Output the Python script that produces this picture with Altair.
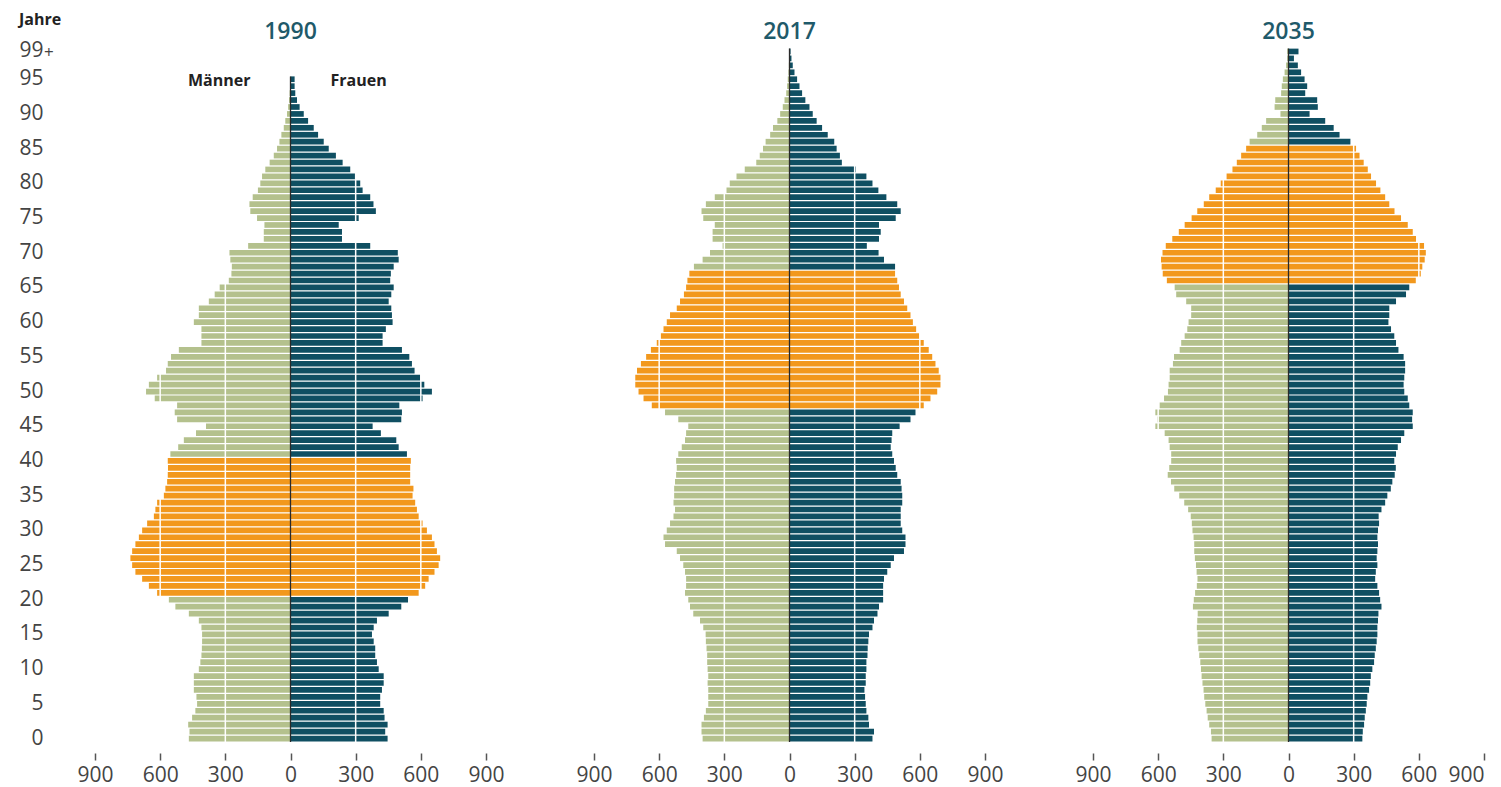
import altair as alt
import pandas as pd

years = [1990, 2017, 2035]
ages = list(range(100))

# population in thousands per single year of age (index = age 0..99+)
men_1990 = [468, 465, 471, 453, 438, 430, 433, 445, 445, 445,
            422, 415, 410, 408, 407, 407, 410, 422, 468, 530,
            560, 614, 652, 683, 714, 729, 737, 729, 714, 698,
            683, 660, 629, 622, 614, 583, 576, 568, 565, 564,
            565, 553, 517, 491, 435, 389, 522, 533, 522, 625,
            665, 652, 614, 573, 565, 550, 514, 410, 410, 410,
            445, 422, 422, 376, 349, 326, 284, 272, 270, 277,
            281, 195, 123, 123, 120, 154, 185, 189, 174, 150,
            139, 131, 116, 96, 77, 62, 51, 42, 31, 24,
            16, 11, 7, 4, 2, 1, 0, 0, 0, 0]
women_1990 = [447, 436, 447, 433, 429, 413, 413, 421, 429, 429,
              406, 398, 390, 390, 383, 375, 383, 398, 452, 510,
              541, 590, 620, 636, 663, 682, 689, 674, 663, 651,
              628, 608, 590, 582, 574, 562, 566, 551, 551, 551,
              554, 536, 498, 487, 416, 378, 510, 513, 501, 608,
              651, 616, 597, 571, 559, 547, 513, 424, 424, 439,
              470, 467, 464, 452, 464, 475, 459, 462, 475, 498,
              494, 367, 237, 237, 222, 314, 393, 382, 367, 332,
              321, 298, 275, 240, 209, 176, 153, 127, 107, 81,
              61, 42, 30, 22, 19, 19, 0, 0, 0, 0]
men_2017 = [400, 405, 405, 394, 385, 374, 374, 374, 377, 374,
            377, 379, 379, 382, 385, 386, 397, 412, 443, 458,
            466, 481, 476, 476, 481, 489, 504, 519, 573, 580,
            565, 550, 534, 527, 534, 531, 531, 527, 522, 519,
            522, 512, 496, 481, 476, 466, 512, 573, 634, 672,
            695, 710, 710, 702, 684, 660, 638, 611, 592, 580,
            565, 550, 519, 504, 486, 476, 470, 461, 440, 400,
            366, 308, 354, 354, 344, 397, 405, 385, 344, 290,
            275, 244, 206, 153, 137, 122, 110, 89, 76, 56,
            43, 31, 23, 15, 11, 8, 5, 3, 2, 2]
women_2017 = [382, 389, 366, 363, 354, 351, 348, 345, 351, 351,
              354, 354, 359, 360, 363, 366, 382, 389, 405, 412,
              431, 431, 431, 435, 450, 466, 481, 527, 534, 534,
              519, 512, 512, 512, 519, 519, 516, 512, 496, 489,
              481, 473, 466, 470, 473, 507, 557, 580, 618, 649,
              680, 695, 695, 687, 672, 657, 641, 618, 599, 583,
              568, 557, 542, 527, 512, 504, 496, 486, 486, 435,
              410, 356, 412, 420, 412, 489, 512, 496, 446, 409,
              382, 354, 305, 241, 232, 217, 206, 176, 150, 125,
              107, 92, 73, 58, 46, 35, 23, 15, 9, 5]
men_2035 = [354, 357, 365, 372, 377, 383, 388, 391, 396, 400,
            403, 406, 411, 415, 419, 419, 422, 420, 418, 440,
            436, 430, 422, 419, 423, 426, 431, 434, 434, 437,
            442, 445, 450, 462, 480, 503, 526, 541, 556, 549,
            540, 540, 547, 552, 570, 613, 604, 613, 593, 573,
            555, 552, 547, 547, 532, 527, 501, 494, 478, 466,
            460, 448, 448, 471, 517, 524, 560, 579, 584, 587,
            580, 565, 535, 505, 478, 446, 420, 390, 365, 335,
            312, 285, 258, 238, 218, 195, 179, 144, 123, 103,
            37, 64, 61, 34, 31, 26, 18, 11, 6, 6]
women_2035 = [340, 342, 348, 351, 356, 360, 363, 371, 376, 379,
              386, 394, 397, 402, 406, 409, 409, 412, 414, 428,
              422, 417, 409, 399, 402, 409, 406, 409, 412, 409,
              412, 417, 415, 428, 445, 455, 471, 478, 489, 494,
              487, 495, 503, 518, 533, 572, 569, 572, 556, 549,
              533, 530, 533, 537, 537, 530, 506, 495, 487, 472,
              460, 464, 464, 495, 541, 556, 586, 609, 616, 627,
              632, 624, 587, 572, 549, 518, 488, 464, 445, 423,
              403, 380, 365, 346, 327, 311, 285, 235, 208, 169,
              97, 135, 132, 77, 86, 74, 58, 43, 25, 46]

boomer_first, boomer_last = 1950, 1969
tick_values = [-900, -600, -300, 0, 300, 600, 900]
grid_values = [-600, -300, 300, 600]
age_label_values = [0, 5, 10, 15, 20, 25, 30, 35, 40, 45, 50,
                    55, 60, 65, 70, 75, 80, 85, 90, 95, 99]

series = {1990: (men_1990, women_1990),
          2017: (men_2017, women_2017),
          2035: (men_2035, women_2035)}

rows = []
tops = []
for year in years:
    men, women = series[year]
    top = 0
    for age, m, w in zip(ages, men, women):
        boomer = boomer_first <= year - age <= boomer_last
        if m > 0:
            rows.append(dict(year=year, age=age, x0=-m, x1=0,
                             grp="Babyboomer" if boomer else "Männer"))
        if w > 0:
            rows.append(dict(year=year, age=age, x0=0, x1=w,
                             grp="Babyboomer" if boomer else "Frauen"))
        if m > 0 or w > 0:
            top = age
    tops.append(dict(year=year, top=top))
df = pd.DataFrame(rows)
tops_df = pd.DataFrame(tops)

W, H = 391, 694
FONT = "Open Sans"
GREEN, TEAL, ORANGE = "#b4c18d", "#0f4f62", "#f2981d"

xscale = alt.Scale(domain=[-900, 900], nice=False, zero=False)
yscale = alt.Scale(domain=ages[::-1], paddingInner=0.18, paddingOuter=0.09)
cscale = alt.Scale(domain=["Männer", "Frauen", "Babyboomer"],
                   range=[GREEN, TEAL, ORANGE])


def make_xaxis(last):
    kw = dict(values=tick_values, labelExpr="abs(datum.value)", title=None,
              grid=False, domain=False, ticks=True, offset=11, tickSize=7,
              tickWidth=1.5, tickColor="#555", labelColor="#444",
              labelFontSize=21, labelFont=FONT, labelPadding=4,
              labelFlush=False)
    if last:
        kw["labelAlign"] = {"condition": {"test": "datum.value === 900",
                                          "value": "right"},
                            "value": "center"}
    return alt.Axis(**kw)


def panel(idx, year):
    d = df[df.year == year]
    if idx == 0:
        yaxis = alt.Axis(values=age_label_values, title=None, domain=False,
                         grid=False, ticks=False, tickSize=0, labelPadding=52,
                         labelFontSize=21, labelFont=FONT, labelColor="#444")
    else:
        yaxis = None
    bars = alt.Chart(d).mark_bar().encode(
        x=alt.X("x0:Q", scale=xscale, axis=make_xaxis(idx == len(years) - 1)),
        x2="x1:Q",
        y=alt.Y("age:O", scale=yscale, axis=yaxis),
        color=alt.Color("grp:N", scale=cscale, legend=None),
    )
    grid = alt.Chart(pd.DataFrame({"g": grid_values})).mark_rule(
        color="white", strokeWidth=1.5).encode(
        x=alt.X("g:Q", scale=xscale), y=alt.value(0), y2=alt.value(H))
    center = alt.Chart(tops_df[tops_df.year == year]).mark_rule(
        color="#2a2a2a", strokeWidth=1.3).encode(
        x=alt.datum(0, scale=xscale),
        y=alt.Y("top:O", scale=yscale, bandPosition=0),
        y2=alt.value(H))
    title = alt.Chart(pd.DataFrame({"t": [str(year)]})).mark_text(
        font=FONT, fontSize=23, fontWeight=600, color="#1f5a6a",
        baseline="alphabetic", align="center").encode(
        text="t:N", x=alt.datum(0, scale=xscale), y=alt.value(-9))
    layers = [bars, grid, center, title]
    if idx == 0:
        men_lbl = alt.Chart(pd.DataFrame({"t": ["Männer"]})).mark_text(
            font=FONT, fontSize=16, fontWeight="bold", color="#222",
            baseline="alphabetic", align="right", dx=-40).encode(
            text="t:N", x=alt.datum(0, scale=xscale), y=alt.value(38))
        women_lbl = alt.Chart(pd.DataFrame({"t": ["Frauen"]})).mark_text(
            font=FONT, fontSize=16, fontWeight="bold", color="#222",
            baseline="alphabetic", align="left", dx=40).encode(
            text="t:N", x=alt.datum(0, scale=xscale), y=alt.value(38))
        jahre = alt.Chart(pd.DataFrame({"t": ["Jahre"]})).mark_text(
            font=FONT, fontSize=16, fontWeight="bold", color="#222",
            baseline="alphabetic", align="left").encode(
            text="t:N", x=alt.value(-76), y=alt.value(-23))
        plus = alt.Chart(pd.DataFrame({"t": ["+"], "age": [99]})).mark_text(
            font=FONT, fontSize=17, color="#444", baseline="middle",
            align="left", dy=2).encode(
            text="t:N", x=alt.value(-51), y=alt.Y("age:O", scale=yscale))
        layers += [men_lbl, women_lbl, jahre, plus]
    return alt.layer(*layers).properties(width=W, height=H)


chart = alt.hconcat(*[panel(i, y) for i, y in enumerate(years)],
                    spacing=108, bounds="flush").properties(
    padding={"left": 10, "top": 3, "right": 0, "bottom": 0}
).configure(font=FONT).configure_view(stroke="transparent")

chart.save("out.html", embed_options={"renderer": "svg", "actions": False})
